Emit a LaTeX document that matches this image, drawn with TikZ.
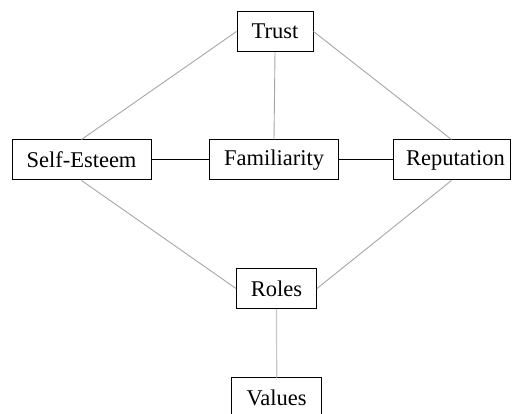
\documentclass[tikz,border=0pt]{standalone}
\usepackage{fontspec}
\setmainfont{Liberation Serif}
\begin{document}
\begin{tikzpicture}[x=1pt,y=-1pt,
  box/.style={draw=black,line width=1pt,fill=white,inner sep=0pt,minimum height=40pt,font=\fontsize{22.5}{27}\selectfont},
  link/.style={draw=black!35,line width=0.9pt},
  strong/.style={draw=black,line width=1pt},
  faint/.style={draw=black!22,line width=1.2pt}]
\useasboundingbox (0,0) rectangle (512,414);
\node[box,minimum width=76pt] (trust) at (275,31.5) {Trust};
\node[box,minimum width=139pt] (self) at (81.5,160) {Self-Esteem};
\node[box,minimum width=129pt] (fam) at (274,160) {Familiarity};
\node[box,minimum width=117pt] (rep) at (451.5,160) {\hspace*{8pt}Reputation};
\node[box,minimum width=80pt] (roles) at (276.5,288.5) {Roles};
\node[box,minimum width=90pt] (values) at (276.7,398) {Values};
\draw[link] (trust.west) -- (self.north);
\draw[link] (trust.south) -- (fam.north);
\draw[link] (trust.east) -- (rep.north);
\draw[strong] (self.east) -- (fam.west);
\draw[strong] (fam.east) -- (rep.west);
\draw[link] (self.south) -- (roles.west);
\draw[link] (rep.south) -- (roles.east);
\draw[faint] (roles.south) -- (values.north);
\end{tikzpicture}
\end{document}
